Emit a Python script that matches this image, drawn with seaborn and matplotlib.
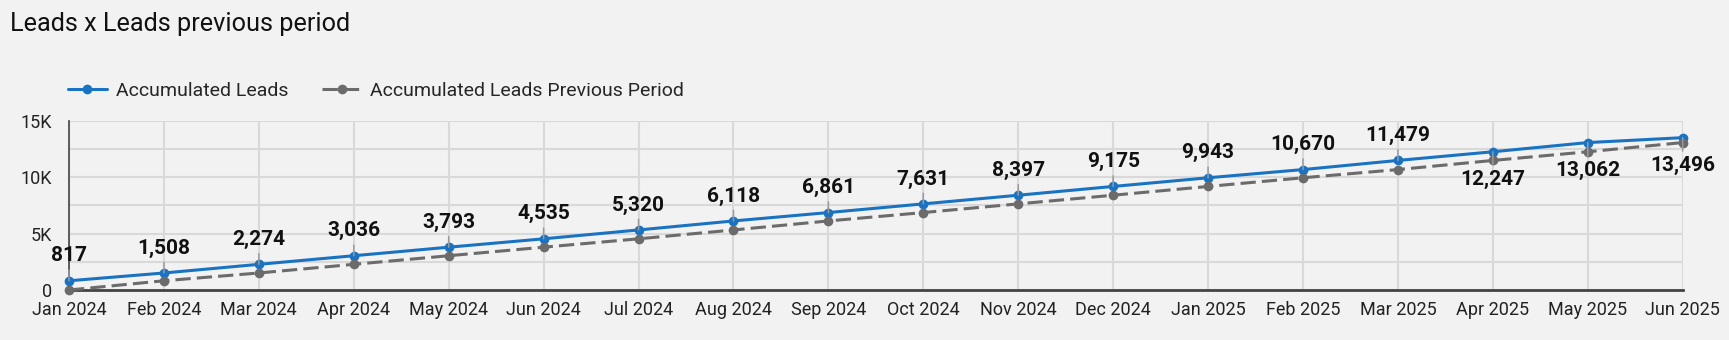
import matplotlib
matplotlib.use("Agg")
import matplotlib.pyplot as plt
from matplotlib.lines import Line2D
from matplotlib.ticker import MultipleLocator, FuncFormatter
import seaborn as sns
import pandas as pd

# ---- data ----
months = ["Jan 2024", "Feb 2024", "Mar 2024", "Apr 2024", "May 2024", "Jun 2024",
          "Jul 2024", "Aug 2024", "Sep 2024", "Oct 2024", "Nov 2024", "Dec 2024",
          "Jan 2025", "Feb 2025", "Mar 2025", "Apr 2025", "May 2025", "Jun 2025"]
accumulated_leads = [817, 1508, 2274, 3036, 3793, 4535, 5320, 6118, 6861, 7631,
                     8397, 9175, 9943, 10670, 11479, 12247, 13062, 13496]
accumulated_prev = [0, 817, 1508, 2274, 3036, 3793, 4535, 5320, 6118, 6861,
                    7631, 8397, 9175, 9943, 10670, 11479, 12247, 13062]
labels_below = ["Apr 2025", "May 2025", "Jun 2025"]
series_names = ["Accumulated Leads", "Accumulated Leads Previous Period"]

# ---- style ----
BG = "#f2f2f2"
BLUE = "#1a73c2"
GRAY = "#6b6b6b"
GRID = "#d9d9d9"

sns.set_theme(style="whitegrid")
plt.rcParams['font.family'] = ['Roboto', 'DejaVu Sans']

df = pd.DataFrame({
    "month": months,
    "idx": list(range(len(months))),
    series_names[0]: accumulated_leads,
    series_names[1]: accumulated_prev,
})
long = df.melt(id_vars=["month", "idx"], value_vars=series_names,
               var_name="series", value_name="leads")

fig = plt.figure(figsize=(17.29, 3.40), dpi=100)
fig.patch.set_facecolor(BG)
ax = fig.add_axes([69 / 1729, 1 - 290 / 340, (1682.7 - 69) / 1729, (290 - 120.7) / 340])
ax.set_facecolor(BG)

sns.lineplot(data=long, x="idx", y="leads", hue="series", style="series",
             hue_order=series_names, style_order=series_names,
             palette={series_names[0]: BLUE, series_names[1]: GRAY},
             dashes={series_names[0]: "", series_names[1]: (5, 2)},
             markers={series_names[0]: "o", series_names[1]: "o"},
             markersize=7, markeredgewidth=0, linewidth=2.2,
             ax=ax, legend=False, zorder=3)
for ln in ax.lines:
    ln.set_clip_on(False)

ax.set_xlim(0, len(months) - 1)
ax.set_ylim(0, 15000)
ax.set_xticks(df["idx"])
ax.set_xticklabels(months)
ax.yaxis.set_major_locator(MultipleLocator(5000))
ax.yaxis.set_minor_locator(MultipleLocator(2500))
ax.yaxis.set_major_formatter(FuncFormatter(lambda v, p: "0" if v == 0 else f"{int(v/1000)}K"))
ax.set_xlabel("")
ax.set_ylabel("")
ax.grid(True, which="major", axis="both", color=GRID, linewidth=1.5)
ax.grid(True, which="minor", axis="y", color=GRID, linewidth=1.5)
ax.tick_params(axis="both", which="both", length=0, labelsize=13, colors="#222222")
ax.tick_params(axis="x", pad=8)
ax.tick_params(axis="y", pad=12)
for s in ["top", "right"]:
    ax.spines[s].set_visible(False)
ax.spines["bottom"].set_color("#444444")
ax.spines["bottom"].set_linewidth(2)
ax.spines["left"].set_color("#444444")
ax.spines["left"].set_linewidth(1.2)
ax.set_axisbelow(True)

# data labels
for i, (m, v) in enumerate(zip(months, accumulated_leads)):
    if m in labels_below:
        off, va = -13, "top"
    else:
        off, va = 14, "baseline"
    ax.annotate(f"{v:,}", xy=(i, v), xytext=(0, off), textcoords="offset points",
                ha="center", va=va, fontsize=15, fontweight="bold", color="#111111",
                arrowprops=dict(arrowstyle="-", color="#9a9a9a", lw=1.1,
                                shrinkA=1, shrinkB=0),
                zorder=4)

# legend
handles = [
    Line2D([], [], color=BLUE, lw=2.2, marker="o", markersize=7, markeredgewidth=0),
    Line2D([], [], color=GRAY, lw=2.2, marker="o", markersize=7, markeredgewidth=0,
           dashes=(5, 2)),
]
ax.legend(handles, series_names, loc="center left",
          bbox_to_anchor=(68 / 1729, 1 - 90.7 / 340), bbox_transform=fig.transFigure,
          frameon=False, ncol=2, fontsize=14, handlelength=2.0, handletextpad=0.45,
          columnspacing=1.75, borderaxespad=0, borderpad=0)

fig.text(10 / 1729, 1 - 12 / 340, "Leads x Leads previous period", fontsize=18.2,
         ha="left", va="top", color="#111111")

fig.savefig("out.png", dpi=100, facecolor=BG)
